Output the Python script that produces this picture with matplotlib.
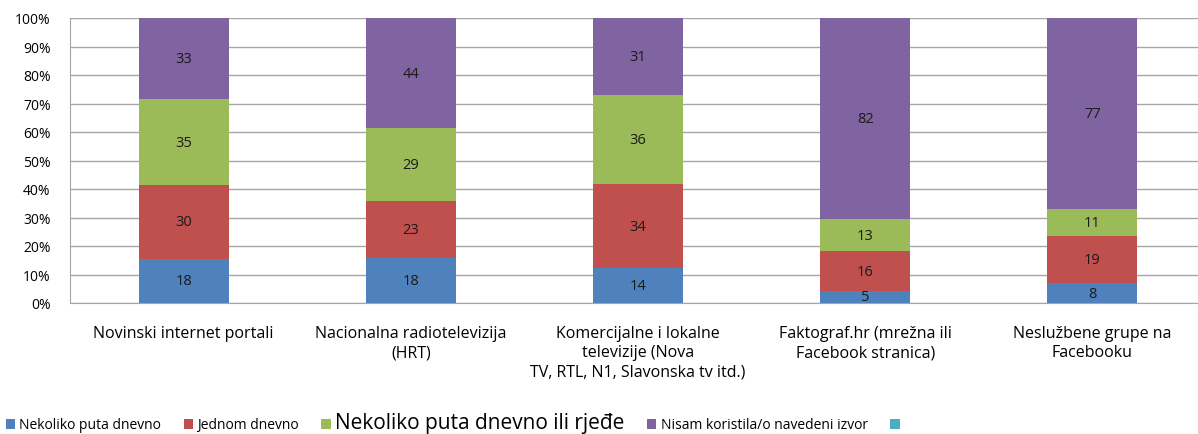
import numpy as np
import matplotlib
matplotlib.use("Agg")
from matplotlib import pyplot as plt
from matplotlib.patches import Patch

plt.rcParams["font.family"] = ["Open Sans", "DejaVu Sans"]

categories = [
    "Novinski internet portali",
    "Nacionalna radiotelevizija\n(HRT)",
    "Komercijalne i lokalne\ntelevizije (Nova\nTV, RTL, N1, Slavonska tv itd.)",
    "Faktograf.hr (mrežna ili\nFacebook stranica)",
    "Neslužbene grupe na\nFacebooku",
]
series_names = [
    "Nekoliko puta dnevno",
    "Jednom dnevno",
    "Nekoliko puta dnevno ili rjeđe",
    "Nisam koristila/o navedeni izvor",
    "",
]
several_daily = [18, 18, 14, 5, 8]
once_daily = [30, 23, 34, 16, 19]
less_often = [35, 29, 36, 13, 11]
not_used = [33, 44, 31, 82, 77]

colors = ["#4F81BD", "#C0504D", "#9BBB59", "#8064A2", "#4BACC6"]

series = [several_daily, once_daily, less_often, not_used]
data = np.array(series, dtype=float)
totals = data.sum(axis=0)
shares = data / totals * 100

fig = plt.figure(figsize=(11.98, 4.35), dpi=100)
ax = fig.add_axes([70 / 1198, 131 / 435, 1136 / 1198, 285 / 435])

x = np.arange(len(categories))
bottom = np.zeros(len(categories))
for i, vals in enumerate(series):
    ax.bar(x, shares[i], bottom=bottom, width=0.396, color=colors[i], zorder=3)
    for xi, b, h, v in zip(x, bottom, shares[i], vals):
        ax.text(xi, b + h / 2, str(v), ha="center", va="center",
                fontsize=10.5, color="#1a1a1a", zorder=4)
    bottom += shares[i]

ax.set_xlim(-0.5, 4.5)
ax.set_ylim(0, 100)
ax.set_yticks(np.arange(0, 101, 10))
ax.set_yticklabels([f"{v}%" for v in range(0, 101, 10)], fontsize=10)
ax.set_xticks(x)
ax.set_xticklabels(categories, fontsize=11.5, linespacing=1.25)
ax.tick_params(axis="y", length=0, pad=14)
ax.tick_params(axis="x", length=0, pad=16)
ax.grid(axis="y", color="#A6A6A6", linewidth=1, zorder=0)
for side in ["top", "right"]:
    ax.spines[side].set_visible(False)
for side in ["left", "bottom"]:
    ax.spines[side].set_color("#A6A6A6")

handles = [Patch(facecolor=c, edgecolor="none") for c in colors]
leg = fig.legend(handles, series_names, loc="center left", bbox_to_anchor=(0.0, 11 / 435),
                 ncol=5, frameon=False, fontsize=10, handlelength=0.7, handleheight=0.7,
                 handletextpad=0.3, columnspacing=1.6, borderaxespad=0)
leg.get_texts()[2].set_fontsize(15)

fig.savefig("out.png", dpi=100)
